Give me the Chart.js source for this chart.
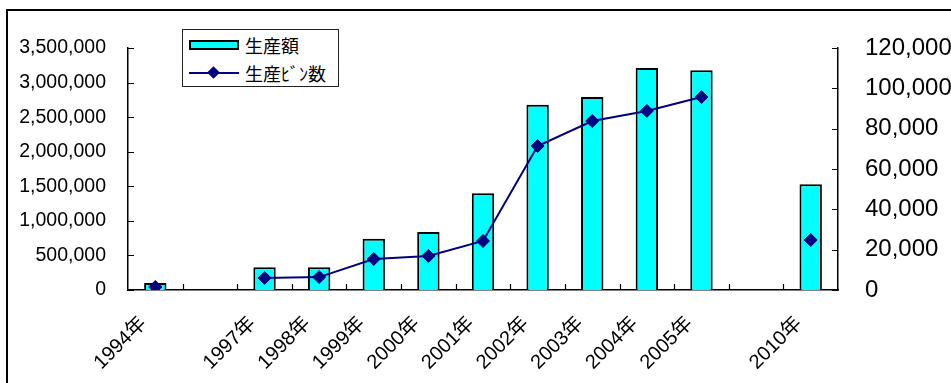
<!DOCTYPE html>
<html>
<head>
<meta charset="utf-8">
<script src="https://cdn.jsdelivr.net/npm/chart.js@4"></script>
<style>
  html, body { margin: 0; padding: 0; background: #fff; overflow: hidden; }
  #wrap { position: relative; width: 951px; height: 383px; }
  #frame { position: absolute; left: 6px; top: 9px; width: 1000px; height: 1000px; border: 2px solid #000; }
  #legend {
    position: absolute; left: 182px; top: 29px; width: 155px; height: 56px;
    border: 1px solid #222; background: #fff;
    font-family: "Noto Sans CJK JP", "Liberation Sans", sans-serif; font-size: 18px; color: #000;
  }
  .row { position: absolute; left: 0; height: 24px; line-height: 24px; }
  .txt { position: absolute; left: 62px; top: 0; white-space: nowrap; }
  .box { position: absolute; left: 6px; top: 7px; width: 46px; height: 6px; background: #00ffff; border: 2px solid #000; }
  .ln { position: absolute; left: 6px; top: 11px; width: 50px; height: 2px; background: #000080; }
  .dm { position: absolute; left: 26px; top: 7px; width: 9px; height: 9px; background: #000080; transform: rotate(45deg); }
</style>
</head>
<body>
<div id="wrap">
  <div id="frame"></div>
  <canvas id="chart" width="951" height="383"></canvas>
  <div id="legend">
    <div class="row" style="top:3px"><div class="box"></div><div class="txt">生産額</div></div>
    <div class="row" style="top:31px"><div class="ln"></div><div class="dm"></div><div class="txt">生産ﾋﾞﾝ数</div></div>
  </div>
</div>
<script>
const categories = ['1994年', '', '1997年', '1998年', '1999年', '2000年', '2001年', '2002年', '2003年', '2004年', '2005年', '', '2010年'];
const productionValue = [100000, null, 330000, 330000, 740000, 840000, 1400000, 2680000, 2790000, 3210000, 3180000, null, 1530000];
const bottleCount = [1500, null, 6000, 6400, 15400, 16900, 24300, 71400, 83800, 88800, 95700, null, 24800];

const fontFamily = '"Liberation Sans", "Noto Sans CJK JP", sans-serif';

// Excel style ticks pointing into the plot
const innerTicks = {
    id: 'innerTicks',
    afterDraw(chart) {
        const ctx = chart.ctx;
        const area = chart.chartArea;
        const x = chart.scales.x, yl = chart.scales.y, yr = chart.scales.y1;
        ctx.save();
        ctx.strokeStyle = '#000';
        ctx.lineWidth = 1.2;
        ctx.beginPath();
        yl.ticks.forEach(t => {
            const py = Math.round(yl.getPixelForValue(t.value)) + 0.5;
            ctx.moveTo(area.left, py); ctx.lineTo(area.left + 6, py);
        });
        yr.ticks.forEach(t => {
            const py = Math.round(yr.getPixelForValue(t.value)) + 0.5;
            ctx.moveTo(area.right - 6, py); ctx.lineTo(area.right, py);
        });
        for (let i = 1; i < categories.length; i++) {
            const px = Math.round((x.getPixelForValue(i - 1) + x.getPixelForValue(i)) / 2) + 0.5;
            ctx.moveTo(px, area.bottom); ctx.lineTo(px, area.bottom - 6);
        }
        ctx.stroke();
        ctx.restore();
    }
};

new Chart(document.getElementById('chart').getContext('2d'), {
    type: 'bar',
    data: {
        labels: categories,
        datasets: [{
            type: 'line',
            label: '生産ﾋﾞﾝ数',
            data: bottleCount,
            yAxisID: 'y1',
            borderColor: '#000080',
            backgroundColor: '#000080',
            borderWidth: 2,
            pointStyle: 'rectRot',
            pointRadius: 6.5,
            pointBorderWidth: 1,
            spanGaps: false,
            tension: 0,
            order: 0
        }, {
            type: 'bar',
            label: '生産額',
            data: productionValue,
            yAxisID: 'y',
            backgroundColor: '#00ffff',
            borderColor: '#000',
            borderWidth: 2,
            barPercentage: 0.41,
            categoryPercentage: 1,
            order: 1
        }]
    },
    options: {
        responsive: false,
        animation: false,
        layout: { padding: { top: 48, left: 0, right: 0, bottom: 0 } },
        plugins: {
            legend: { display: false },
            tooltip: { enabled: false }
        },
        scales: {
            x: {
                grid: { display: false },
                border: { display: true, color: '#000', width: 1.5 },
                ticks: {
                    color: '#000',
                    font: { family: fontFamily, size: 20 },
                    maxRotation: 45, minRotation: 45,
                    autoSkip: false,
                    padding: 14,
                    labelOffset: -12
                },
                afterFit(s) { s.height = 93; }
            },
            y: {
                position: 'left',
                min: 0, max: 3500000,
                grid: { display: false },
                border: { display: true, color: '#000', width: 1.5 },
                ticks: {
                    stepSize: 500000,
                    color: '#000',
                    padding: 14,
                    font: { family: fontFamily, size: 19.5 },
                    callback: v => v.toLocaleString('en-US')
                },
                afterFit(s) { s.width = 128; }
            },
            y1: {
                position: 'right',
                min: 0, max: 120000,
                grid: { display: false },
                border: { display: true, color: '#000', width: 1.5 },
                ticks: {
                    stepSize: 20000,
                    color: '#000',
                    padding: 19,
                    font: { family: fontFamily, size: 24 },
                    callback: v => v.toLocaleString('en-US')
                },
                afterFit(s) { s.width = 113; }
            }
        }
    },
    plugins: [innerTicks]
});
</script>
</body>
</html>
